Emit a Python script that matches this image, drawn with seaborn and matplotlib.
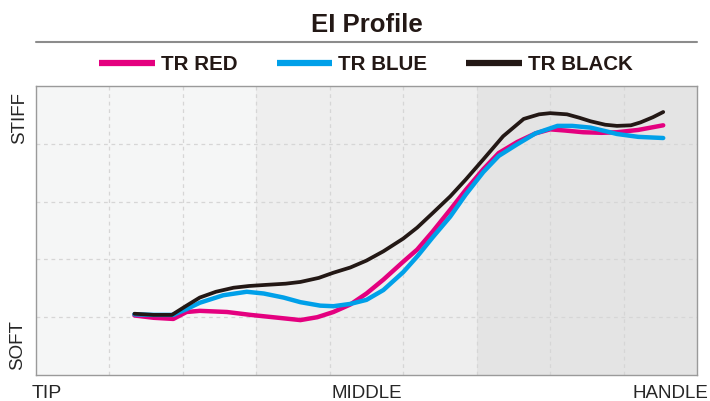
import pandas as pd
import matplotlib.pyplot as plt
import seaborn as sns

# values (x: 0 tip .. 9 handle, y: 0 soft .. 5 stiff)
red_x = [1.34, 1.6, 1.87, 2.05, 2.23, 2.6, 2.92, 3.3, 3.6, 3.83, 4.05, 4.28, 4.5, 4.73, 5.0, 5.19, 5.4, 5.64, 5.85, 6.09, 6.3, 6.55, 6.8, 7.0, 7.2, 7.45, 7.7, 7.91, 8.2, 8.54]
red_y = [1.03, 0.99, 0.97, 1.09, 1.11, 1.09, 1.04, 0.99, 0.95, 1.0, 1.09, 1.22, 1.41, 1.65, 1.96, 2.17, 2.48, 2.86, 3.2, 3.56, 3.84, 4.03, 4.18, 4.25, 4.23, 4.2, 4.19, 4.2, 4.24, 4.32]

blue_x = [1.34, 1.6, 1.87, 2.05, 2.23, 2.55, 2.87, 3.1, 3.37, 3.6, 3.87, 4.05, 4.28, 4.5, 4.73, 5.0, 5.19, 5.4, 5.64, 5.85, 6.09, 6.3, 6.55, 6.8, 7.1, 7.3, 7.55, 7.75, 7.91, 8.2, 8.54]
blue_y = [1.05, 1.04, 1.04, 1.14, 1.25, 1.38, 1.44, 1.41, 1.34, 1.26, 1.2, 1.19, 1.23, 1.3, 1.47, 1.78, 2.05, 2.38, 2.74, 3.12, 3.51, 3.79, 3.99, 4.18, 4.31, 4.31, 4.28, 4.22, 4.17, 4.12, 4.1]

black_x = [1.34, 1.6, 1.85, 2.05, 2.23, 2.45, 2.69, 2.9, 3.14, 3.4, 3.6, 3.85, 4.05, 4.28, 4.5, 4.73, 5.0, 5.19, 5.4, 5.64, 5.85, 6.09, 6.36, 6.64, 6.85, 7.0, 7.23, 7.4, 7.55, 7.75, 7.91, 8.1, 8.23, 8.4, 8.54]
black_y = [1.06, 1.04, 1.04, 1.2, 1.34, 1.44, 1.51, 1.54, 1.56, 1.58, 1.61, 1.68, 1.77, 1.86, 1.98, 2.14, 2.36, 2.55, 2.8, 3.09, 3.38, 3.73, 4.13, 4.43, 4.51, 4.53, 4.51, 4.45, 4.39, 4.33, 4.31, 4.32, 4.37, 4.46, 4.55]

series = ["TR RED", "TR BLUE", "TR BLACK"]
colors = ["#e4007f", "#00a0e9", "#231815"]

df = pd.concat([
    pd.DataFrame({"pos": red_x, "ei": red_y, "shaft": "TR RED"}),
    pd.DataFrame({"pos": blue_x, "ei": blue_y, "shaft": "TR BLUE"}),
    pd.DataFrame({"pos": black_x, "ei": black_y, "shaft": "TR BLACK"}),
])

sns.set_style("white")
plt.rcParams['font.family'] = ['Liberation Sans', 'DejaVu Sans']

fig = plt.figure(figsize=(7.1, 4.01), dpi=100)
ax = fig.add_axes([36 / 710, 26 / 401, 661 / 710, 289 / 401])

# background bands: tip / middle / handle
ax.axvspan(0, 3, color="#f5f6f6", zorder=0, lw=0)
ax.axvspan(3, 6, color="#eeeeee", zorder=0, lw=0)
ax.axvspan(6, 9, color="#e4e4e4", zorder=0, lw=0)

sns.lineplot(data=df, x="pos", y="ei", hue="shaft", hue_order=series,
             palette=colors, sort=False, lw=3.2, ax=ax, zorder=3)
for ln in ax.lines:
    if ln.get_color() == "#231815":
        ln.set_linewidth(2.7)
    ln.set_solid_capstyle("round")
    ln.set_solid_joinstyle("round")

ax.set_xlim(0, 9)
ax.set_ylim(0, 5)
ax.set_xticks(range(1, 9))
ax.set_yticks(range(1, 5))
ax.grid(True, ls=(0, (3, 3)), color="#d6d6d6", lw=0.9)
ax.tick_params(length=0, labelbottom=False, labelleft=False)
ax.set_xlabel("")
ax.set_ylabel("")
for s in ax.spines.values():
    s.set_color("#9a9a9a")
    s.set_linewidth(1.0)

# end labels
fig.text(32 / 710, 1 - 393 / 401, "TIP", ha="left", va="center", fontsize=14)
fig.text(367 / 710, 1 - 393 / 401, "MIDDLE", ha="center", va="center", fontsize=13.5)
fig.text(708 / 710, 1 - 393 / 401, "HANDLE", ha="right", va="center", fontsize=13.5)
fig.text(20 / 710, 1 - 118 / 401, "STIFF", ha="center", va="center", rotation=90, fontsize=13.5)
fig.text(18 / 710, 1 - 345 / 401, "SOFT", ha="center", va="center", rotation=90, fontsize=13.5)

# title and rule
fig.text(367 / 710, 1 - 25 / 401, "EI Profile", ha="center", va="center",
         fontsize=18.5, fontweight="bold", color="#231815")
fig.add_artist(plt.Line2D([36 / 710, 697 / 710], [1 - 42 / 401, 1 - 42 / 401],
                          color="#8c8c8c", lw=1.5, transform=fig.transFigure))

sns.move_legend(ax, "center", bbox_to_anchor=(366 / 710, 1 - 65 / 401),
                bbox_transform=fig.transFigure, ncol=3, frameon=False, title=None,
                fontsize=14.8, handlelength=2.7, handletextpad=0.3, columnspacing=1.9)
leg = ax.get_legend()
for h in leg.legend_handles:
    h.set_linewidth(4.5)
    h.set_solid_capstyle("butt")
for t in leg.get_texts():
    t.set_fontweight("bold")
    t.set_color("#231815")

fig.savefig("out.png", dpi=100)
